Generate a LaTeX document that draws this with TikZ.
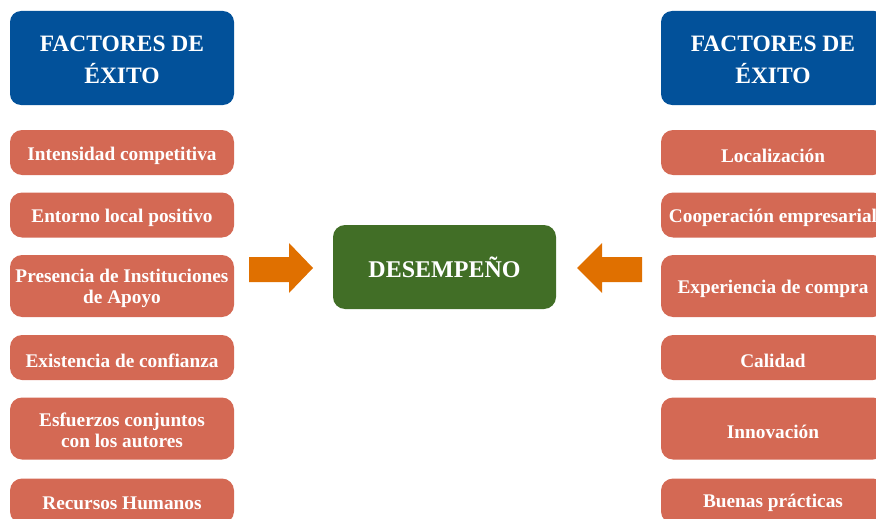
\documentclass[tikz,border=0pt]{standalone}
\usepackage{fontspec}
\setmainfont{Liberation Serif}
\begin{document}
\begin{tikzpicture}[x=1pt,y=-1pt,
  hdr/.style={fill=hblue, rounded corners=11pt, minimum width=224pt, minimum height=94pt, inner sep=0pt},
  hdrtxt/.style={text=white, align=center, inner sep=0pt, font=\bfseries\fontsize{23.5}{32}\selectfont},
  fbox/.style={fill=fsalmon, rounded corners=12pt, minimum width=224pt, inner sep=0pt},
  ftxt/.style={text=white, align=center, inner sep=0pt, font=\bfseries\fontsize{19.3}{21}\selectfont},
  onerow/.style={fbox, minimum height=45pt},
  tworow/.style={fbox, minimum height=62pt},
  center/.style={fill=dgreen, rounded corners=12pt, minimum width=223pt, minimum height=84pt, inner sep=0pt,
    text=white, font=\bfseries\fontsize{24}{28}\selectfont},
  blockarrow/.style={fill=aorange}
]
\definecolor{hblue}{HTML}{02519A}
\definecolor{fsalmon}{HTML}{D46954}
\definecolor{dgreen}{HTML}{416E26}
\definecolor{aorange}{HTML}{E07000}
\useasboundingbox (0,0) rectangle (876,519);
\clip (0,0) rectangle (876,519);
% left column
\node[hdr] (lh) at (122,58) {};
\node[hdrtxt, yshift=-2pt] (lht) at (lh.center) {FACTORES DE\\ÉXITO};
\node[onerow] (l1) at (122,152.5) {};
\node[ftxt, yshift=-3pt] (l1t) at (l1.center) {Intensidad competitiva};
\node[onerow] (l2) at (122,215) {};
\node[ftxt, yshift=-3pt] (l2t) at (l2.center) {Entorno local positivo};
\node[tworow] (l3) at (122,286) {};
\node[ftxt, yshift=-2pt] (l3t) at (l3.center) {Presencia de Instituciones\\de Apoyo};
\node[onerow] (l4) at (122,357.5) {};
\node[ftxt, yshift=-3pt] (l4t) at (l4.center) {Existencia de confianza};
\node[tworow] (l5) at (122,428.5) {};
\node[ftxt, yshift=-2pt] (l5t) at (l5.center) {Esfuerzos conjuntos\\con los autores};
\node[onerow] (l6) at (122,501) {};
\node[ftxt, yshift=-2pt] (l6t) at (l6.center) {Recursos Humanos};
% right column
\node[hdr] (rh) at (773,58) {};
\node[hdrtxt, yshift=-2pt] (rht) at (rh.center) {FACTORES DE\\ÉXITO};
\node[onerow] (r1) at (773,152.5) {};
\node[ftxt, yshift=-3pt] (r1t) at (r1.center) {Localización};
\node[onerow] (r2) at (773,215) {};
\node[ftxt, yshift=-3pt] (r2t) at (r2.center) {Cooperación empresarial};
\node[tworow] (r3) at (773,286) {};
\node[ftxt, yshift=-3pt] (r3t) at (r3.center) {Experiencia de compra};
\node[onerow] (r4) at (773,357.5) {};
\node[ftxt, yshift=-3pt] (r4t) at (r4.center) {Calidad};
\node[tworow] (r5) at (773,428.5) {};
\node[ftxt, yshift=-3pt] (r5t) at (r5.center) {Innovación};
\node[onerow] (r6) at (773,501) {};
\node[ftxt, yshift=-2pt] (r6t) at (r6.center) {Buenas prácticas};
% center
\node[center] (d) at (444.5,267) {DESEMPEÑO};
% block arrows
\fill[blockarrow] (249,257) -- (289,257) -- (289,243) -- (313,268) -- (289,293) -- (289,282) -- (249,282) -- cycle;
\fill[blockarrow] (642,257) -- (602,257) -- (602,243) -- (577,268) -- (602,293) -- (602,282) -- (642,282) -- cycle;
\end{tikzpicture}
\end{document}
